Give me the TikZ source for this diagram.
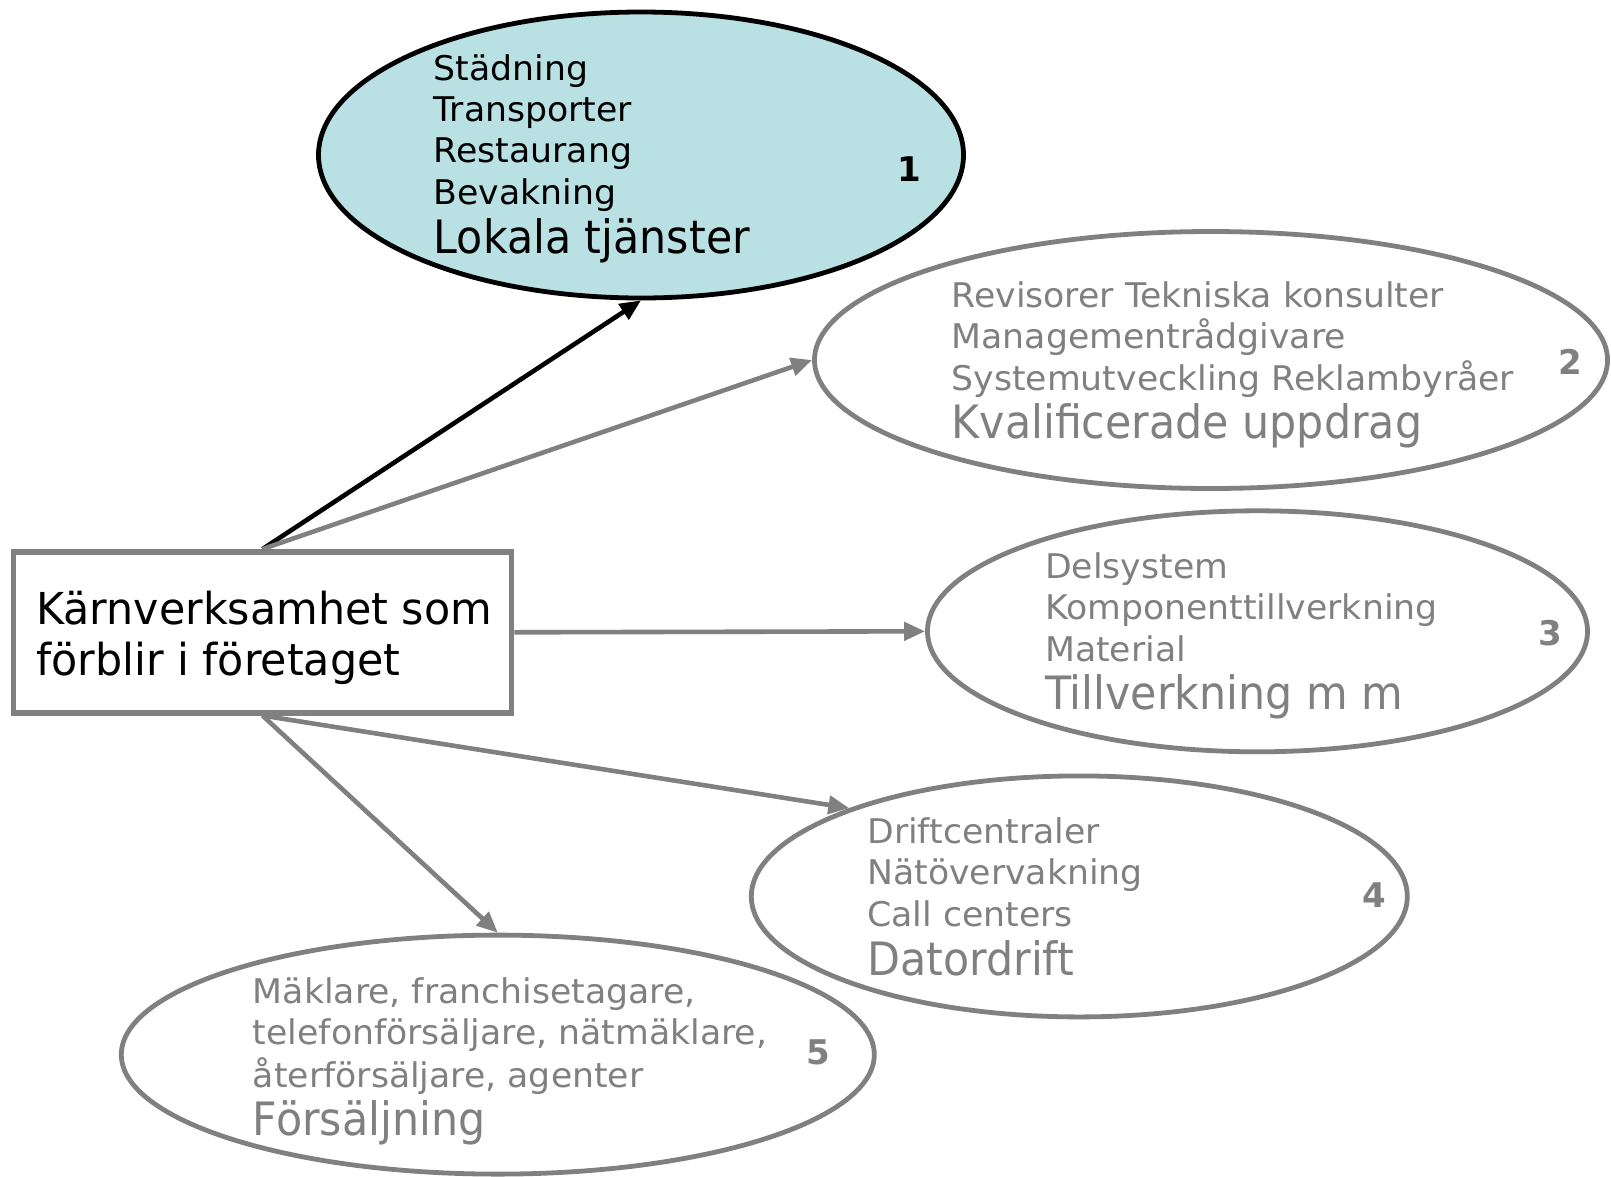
\documentclass[tikz,border=0pt]{standalone}
\usepackage{fontspec}
\setmainfont{DejaVu Sans}
\newfontfamily\fsmall{DejaVu Sans}[FakeStretch=1.02]
\newfontfamily\fbig{DejaVu Sans}[FakeStretch=0.93]
\newfontfamily\fcore{DejaVu Sans}[FakeStretch=0.973]
\usetikzlibrary{shapes.geometric,arrows.meta}
\definecolor{gr}{HTML}{808080}
\definecolor{lb}{HTML}{B9E0E3}
\tikzset{
  oval/.style={ellipse, draw=gr, line width=4.8pt, fill=white, inner sep=0pt},
  txt/.style={anchor=base west, inner sep=0pt, font=\fsmall\fontsize{34}{40}\selectfont},
  big/.style={anchor=base west, inner sep=0pt, font=\fbig\fontsize{46}{52}\selectfont},
  core/.style={anchor=base west, inner sep=0pt, font=\fcore\fontsize{44}{50}\selectfont},
  num/.style={anchor=center, inner sep=0pt, font=\fontsize{34}{40}\selectfont\bfseries},
  arr/.style={line width=4.6pt, draw=gr, -{Triangle[length=21pt,width=18pt]}},
}
\begin{document}
\begin{tikzpicture}[x=1pt,y=-1pt]
\useasboundingbox (0,0) rectangle (1611,1176);
% ellipses
\node[oval, draw=black, fill=lb, minimum width=645pt, minimum height=286pt] (e1) at (641,155) {};
\node[oval, minimum width=793pt, minimum height=257pt] (e2) at (1211,360) {};
\node[oval, minimum width=660pt, minimum height=241pt] (e3) at (1257.5,631.3) {};
\node[oval, minimum width=656pt, minimum height=241pt] (e4) at (1079.3,896.4) {};
\node[oval, minimum width=753pt, minimum height=239pt] (e5) at (497.8,1054.6) {};
% box
\node[draw=gr, line width=5.5pt, fill=white, minimum width=498pt, minimum height=161pt, inner sep=0pt] (box) at (262.5,632.3) {};
% arrows
\draw[arr, draw=black, fill=black] (box.north) -- (e1.south);
\draw[arr, fill=gr] (box.north) -- (e2.west);
\draw[arr, fill=gr] (box.east) -- (e3.west);
\draw[arr, fill=gr] (box.south) -- (e4.159);
\draw[arr, fill=gr] (box.south) -- (e5.north);
% texts ellipse 1
\node[txt] (t11) at (433.6,80.1) {Städning};
\node[txt] (t12) at (433.6,121.2) {Transporter};
\node[txt] (t13) at (433.6,162.3) {Restaurang};
\node[txt] (t14) at (433.6,204.5) {Bevakning};
\node[big] (t15) at (433.6,253.8) {Lokala tjänster};
\node[num] (n1) at (909.2,169.5) {1};
% ellipse 2
\begin{scope}[every node/.append style={text=gr}]
\node[txt] (t21) at (951.4,307.2) {Revisorer Tekniska konsulter};
\node[txt] (t22) at (951.4,348.3) {Managementrådgivare};
\node[txt] (t23) at (951.4,390.4) {Systemutveckling Reklambyråer};
\node[big] (t24) at (951.4,438.7) {Kvalificerade uppdrag};
\node[num] (n2) at (1569.9,361.6) {2};
% ellipse 3
\node[txt] (t31) at (1044.9,578.4) {Delsystem};
\node[txt] (t32) at (1044.9,619.5) {Komponenttillverkning};
\node[txt] (t33) at (1044.9,661.6) {Material};
\node[big] (t34) at (1044.9,709.9) {Tillverkning m m};
\node[num] (n3) at (1550.3,632.9) {3};
% ellipse 4
\node[txt] (t41) at (867.1,843.5) {Driftcentraler};
\node[txt] (t42) at (867.1,884.6) {Nätövervakning};
\node[txt] (t43) at (867.1,926.7) {Call centers};
\node[big] (t44) at (867.1,975.0) {Datordrift};
\node[num] (n4) at (1374.7,894.9) {4};
% ellipse 5
\node[txt] (t51) at (252.7,1003.8) {Mäklare, franchisetagare,};
\node[txt] (t52) at (252.7,1044.9) {telefonförsäljare, nätmäklare,};
\node[txt] (t53) at (252.7,1087.0) {återförsäljare, agenter};
\node[big] (t54) at (252.7,1135.3) {Försäljning};
\node[num] (n5) at (818.8,1052.1) {5};
\end{scope}
% box text
\node[core] (b1) at (36,624.7) {Kärnverksamhet som};
\node[core] (b2) at (36,675.0) {förblir i företaget};
\end{tikzpicture}
\end{document}
